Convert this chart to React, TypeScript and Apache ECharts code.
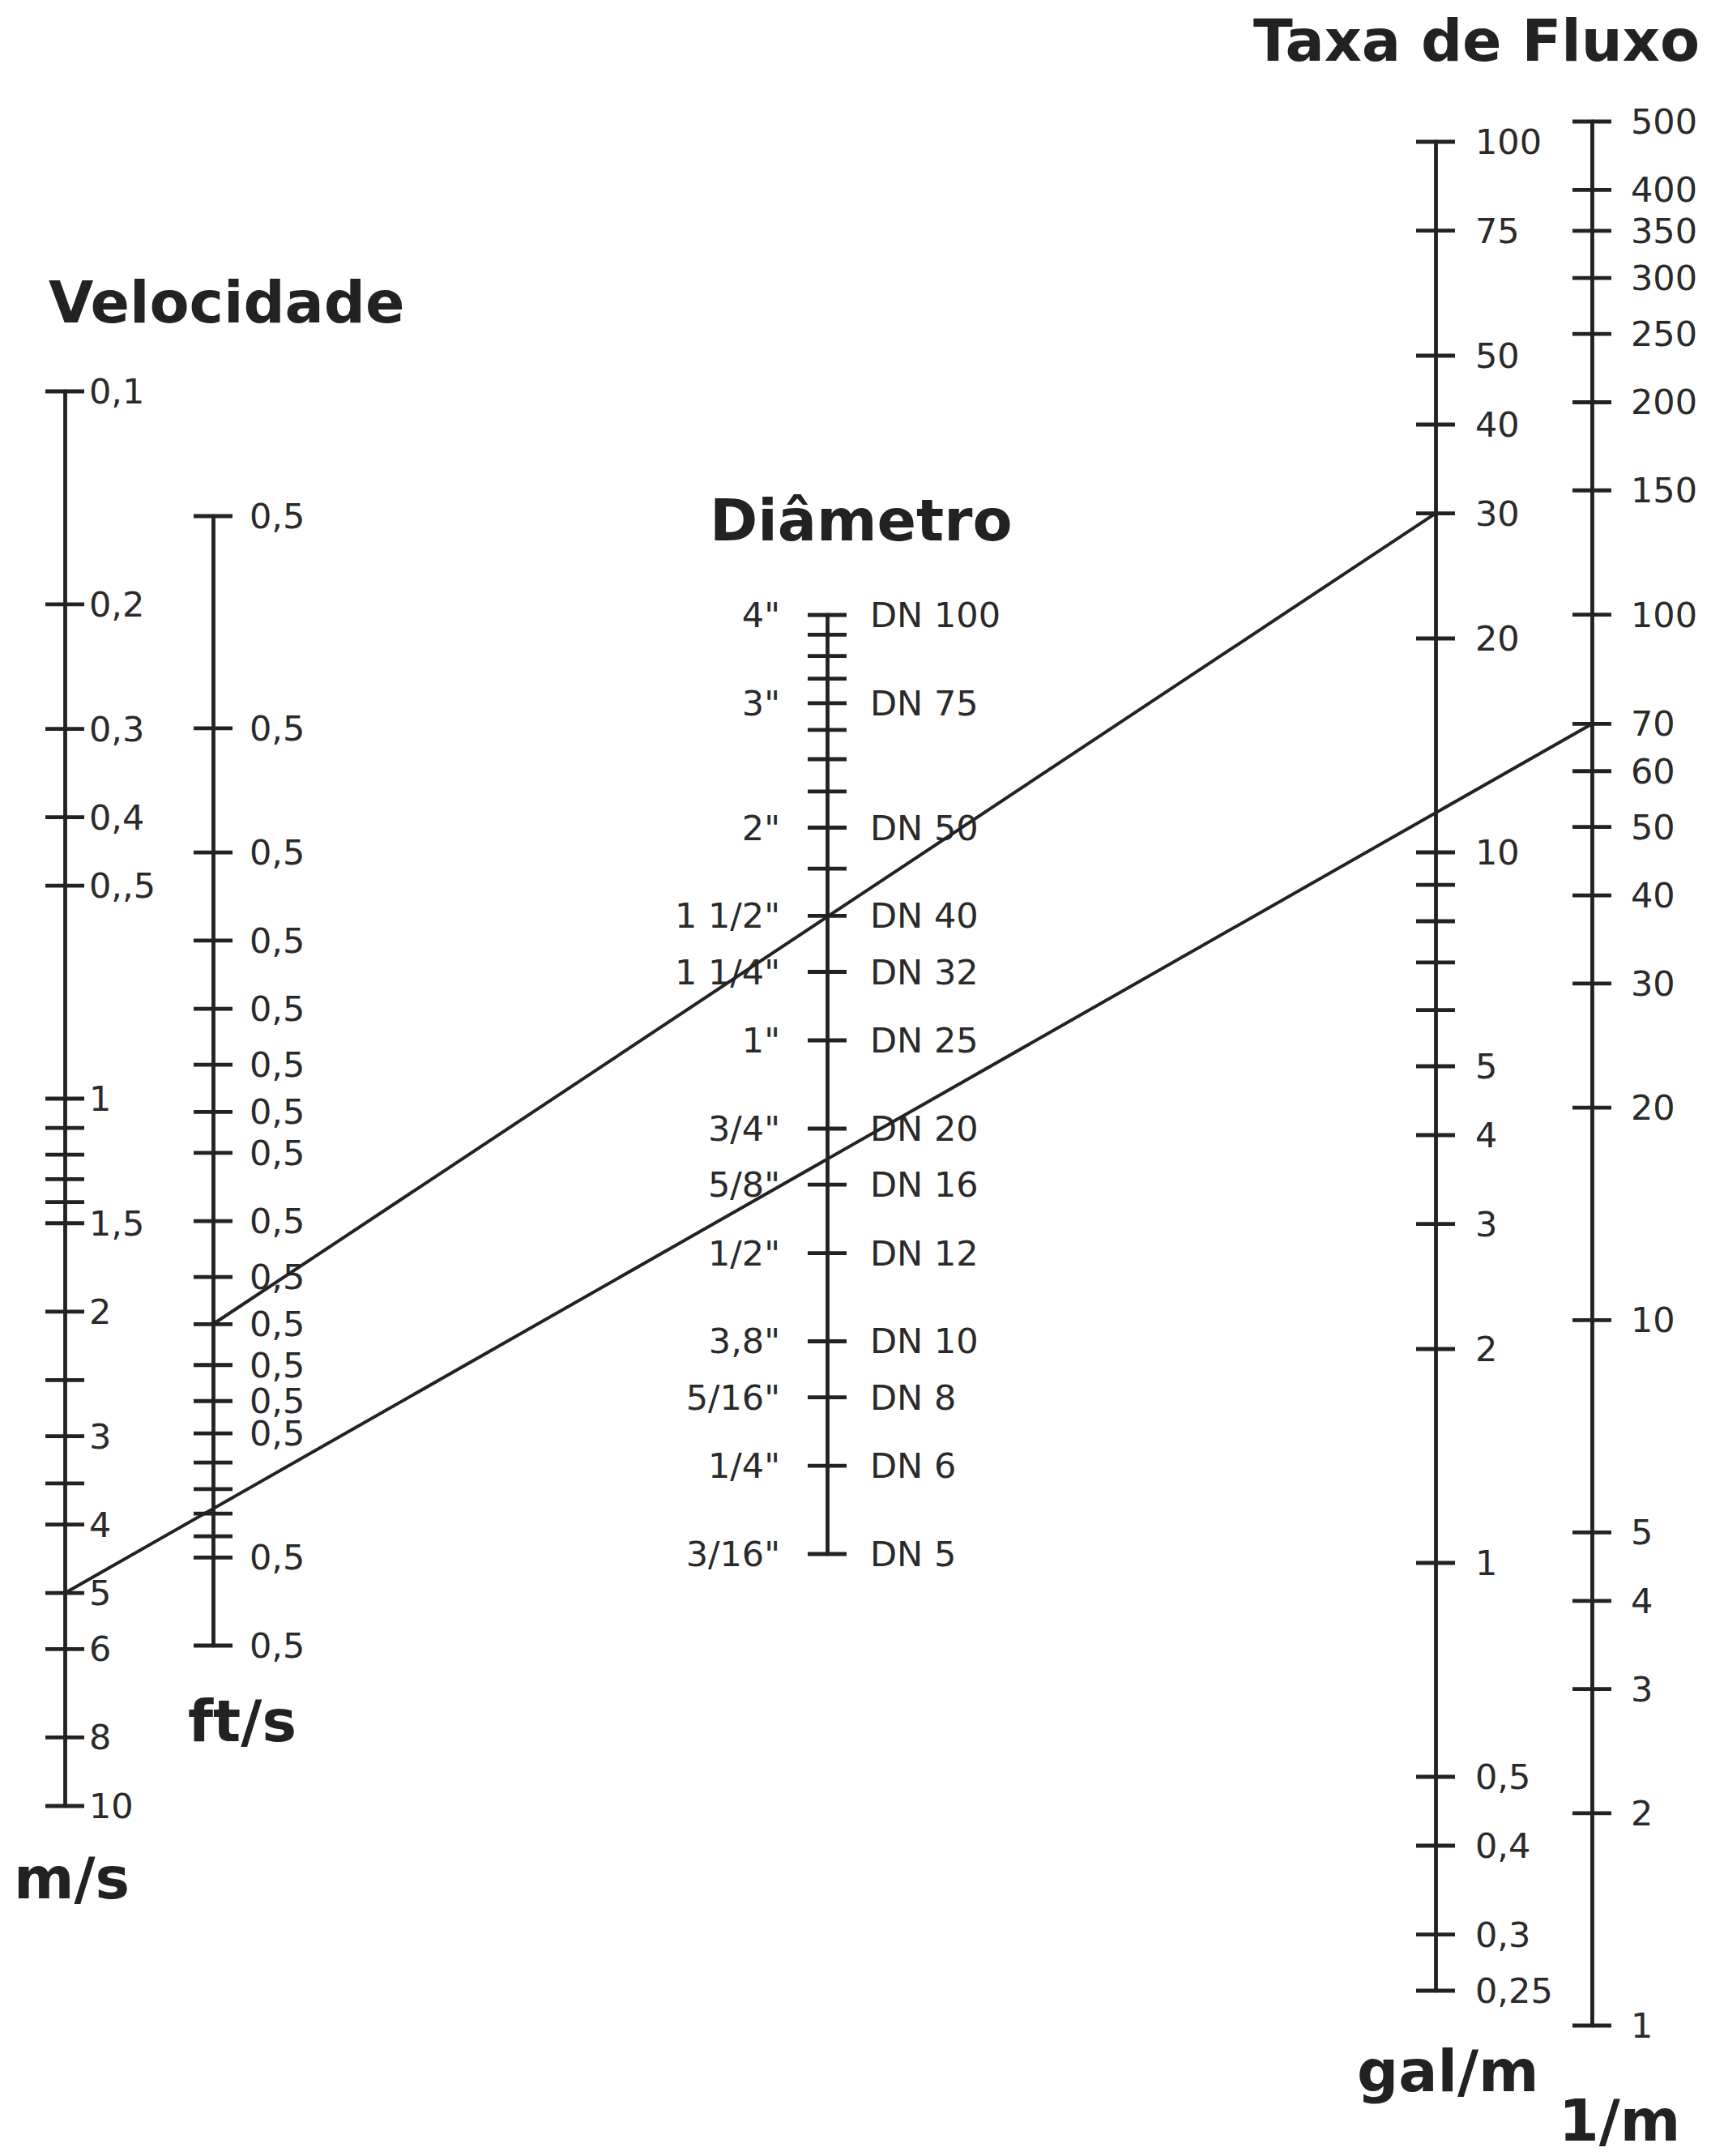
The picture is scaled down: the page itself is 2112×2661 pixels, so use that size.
import React, { useEffect, useRef } from "react";
import * as echarts from "echarts";

const W = 2112;
const H = 2661;

// ---- Velocidade (m/s) ----
const msTicks = [0.1, 0.2, 0.3, 0.4, 0.5, 1, 1.1, 1.2, 1.3, 1.4, 1.5, 2, 2.5, 3, 3.5, 4, 5, 6, 8, 10];
const msLabels = ["0,1", "0,2", "0,3", "0,4", "0,,5", "1", "", "", "", "", "1,5", "2", "", "3", "", "4", "5", "6", "8", "10"];

// ---- Velocidade (ft/s) ----
const ftsTicks = [0.5, 1, 1.5, 2, 2.5, 3, 3.5, 4, 5, 6, 7, 8, 9, 10, 11, 12, 13, 14, 15, 20];
const ftsLabels = ["0,5", "0,5", "0,5", "0,5", "0,5", "0,5", "0,5", "0,5", "0,5", "0,5", "0,5", "0,5", "0,5", "0,5", "", "", "", "", "0,5", "0,5"];

// ---- Diâmetro (inch / DN) ----
const diamTicks = [4, 3.75, 3.5, 3.25, 3, 2.75, 2.5, 2.25, 2, 1.75, 1.5, 1.25, 1, 0.75, 0.625, 0.5, 0.375, 0.3125, 0.25, 0.1875];
const inchLabels = ['4"', "", "", "", '3"', "", "", "", '2"', "", '1 1/2"', '1 1/4"', '1"', '3/4"', '5/8"', '1/2"', '3,8"', '5/16"', '1/4"', '3/16"'];
const dnLabels = ["DN 100", "", "", "", "DN 75", "", "", "", "DN 50", "", "DN 40", "DN 32", "DN 25", "DN 20", "DN 16", "DN 12", "DN 10", "DN 8", "DN 6", "DN 5"];

// ---- Taxa de Fluxo (gal/m) ----
const galTicks = [100, 75, 50, 40, 30, 20, 10, 9, 8, 7, 6, 5, 4, 3, 2, 1, 0.5, 0.4, 0.3, 0.25];
const galLabels = ["100", "75", "50", "40", "30", "20", "10", "", "", "", "", "5", "4", "3", "2", "1", "0,5", "0,4", "0,3", "0,25"];

// ---- Taxa de Fluxo (1/m) ----
const lpmTicks = [500, 400, 350, 300, 250, 200, 150, 100, 70, 60, 50, 40, 30, 20, 10, 5, 4, 3, 2, 1];
const lpmLabels = ["500", "400", "350", "300", "250", "200", "150", "100", "70", "60", "50", "40", "30", "20", "10", "5", "4", "3", "2", "1"];

// ---- Example reading lines (scale id, value) ----
const guideFrom = [["fts", 7], ["ms", 5]];
const guideTo = [["galm", 30], ["lpm", 70]];

const FONT = '"DejaVu Sans", Verdana, sans-serif';
const INK = "#222222";
const LABEL = "#2a2a2a";
const LABEL_SIZE = 43;
const TITLE_SIZE = 71.5;

type Scale = {
  id: string;
  x: number;
  top: number;
  bottom: number;
  min: number;
  max: number;
  inverse: boolean;
  ticks: number[];
  right?: string[];
  rightGap?: number;
  left?: string[];
  leftGap?: number;
};

const scales: Scale[] = [
  { id: "ms", x: 80, top: 483, bottom: 2229, min: 0.1, max: 10, inverse: true, ticks: msTicks, right: msLabels, rightGap: 30 },
  { id: "fts", x: 263, top: 637, bottom: 2031, min: 0.5, max: 20, inverse: true, ticks: ftsTicks, right: ftsLabels, rightGap: 45 },
  { id: "diam", x: 1021, top: 759, bottom: 1918, min: 0.1875, max: 4, inverse: false, ticks: diamTicks, left: inchLabels, leftGap: 58, right: dnLabels, rightGap: 53 },
  { id: "galm", x: 1772, top: 175, bottom: 2457, min: 0.25, max: 100, inverse: false, ticks: galTicks, right: galLabels, rightGap: 49 },
  { id: "lpm", x: 1965, top: 150, bottom: 2500, min: 1, max: 500, inverse: false, ticks: lpmTicks, right: lpmLabels, rightGap: 48 },
];

const titles = [
  { text: "Velocidade", x: 60, base: 398, align: "left" },
  { text: "Diâmetro", x: 876, base: 667, align: "left" },
  { text: "Taxa de Fluxo", x: 2098, base: 75, align: "right" },
  { text: "m/s", x: 17, base: 2343, align: "left" },
  { text: "ft/s", x: 232, base: 2149, align: "left" },
  { text: "gal/m", x: 1675, base: 2581, align: "left" },
  { text: "1/m", x: 1924, base: 2642, align: "left" },
];

function App() {
  const ref = useRef<HTMLDivElement>(null);

  useEffect(() => {
    document.body.style.margin = "0";
    if (!ref.current) return;
    const chart = echarts.init(ref.current, undefined, { renderer: "svg", width: W, height: H });

    const option: any = {
      animation: false,
      backgroundColor: "#ffffff",
      grid: scales.map((s) => ({ left: s.x, top: s.top, width: 10, height: s.bottom - s.top, containLabel: false })),
      xAxis: scales.map((s, i) => ({ type: "value", gridIndex: i, min: 0, max: 1, show: false })),
      yAxis: scales.map((s, i) => ({
        type: "log",
        logBase: 10,
        gridIndex: i,
        min: s.min,
        max: s.max,
        inverse: s.inverse,
        position: "left",
        axisLine: { show: true, onZero: false, lineStyle: { color: INK, width: 4.8 } },
        axisTick: { show: false },
        axisLabel: { show: false },
        splitLine: { show: false },
      })),
      series: scales.map((s, i) => ({
        type: "custom",
        xAxisIndex: i,
        yAxisIndex: i,
        clip: false,
        silent: true,
        data: s.ticks.map((v) => [0, v]),
        renderItem: (params: any, api: any) => {
          const idx = params.dataIndex;
          const p = api.coord([0, api.value(1)]);
          const children: any[] = [
            {
              type: "line",
              shape: { x1: p[0] - 24, y1: p[1], x2: p[0] + 24, y2: p[1] },
              style: { stroke: INK, lineWidth: 4.8 },
            },
          ];
          const r = s.right ? s.right[idx] : "";
          if (r) {
            children.push({
              type: "text",
              x: p[0] + (s.rightGap || 0),
              y: p[1],
              style: { text: r, fill: LABEL, font: `${LABEL_SIZE}px ${FONT}`, align: "left", verticalAlign: "middle", textAlign: "left", textVerticalAlign: "middle" },
            });
          }
          const l = s.left ? s.left[idx] : "";
          if (l) {
            children.push({
              type: "text",
              x: p[0] - (s.leftGap || 0),
              y: p[1],
              style: { text: l, fill: LABEL, font: `${LABEL_SIZE}px ${FONT}`, align: "right", verticalAlign: "middle", textAlign: "right", textVerticalAlign: "middle" },
            });
          }
          return { type: "group", children };
        },
      })),
    };
    chart.setOption(option);

    const idxOf = (id: string) => scales.findIndex((s) => s.id === id);
    const lines = guideFrom.map((f, k) => {
      const t = guideTo[k];
      const a = chart.convertToPixel({ gridIndex: idxOf(f[0] as string) } as any, [0, f[1] as number]) as number[];
      const b = chart.convertToPixel({ gridIndex: idxOf(t[0] as string) } as any, [0, t[1] as number]) as number[];
      return {
        type: "line",
        z: 100,
        shape: { x1: a[0], y1: a[1], x2: b[0], y2: b[1] },
        style: { stroke: INK, lineWidth: 4 },
      };
    });

    const titleEls = titles.map((t) => ({
      type: "text",
      z: 100,
      x: t.x,
      y: t.base - 25,
      style: {
        text: t.text,
        fill: INK,
        font: `bold ${TITLE_SIZE}px ${FONT}`,
        lineHeight: 56,
        align: t.align,
        verticalAlign: "middle",
        textAlign: t.align,
        textVerticalAlign: "middle",
      },
    }));

    chart.setOption({ graphic: [...titleEls, ...lines] });

    return () => {
      chart.dispose();
    };
  }, []);

  return <div ref={ref} style={{ width: W, height: H }} />;
}

export default App;
